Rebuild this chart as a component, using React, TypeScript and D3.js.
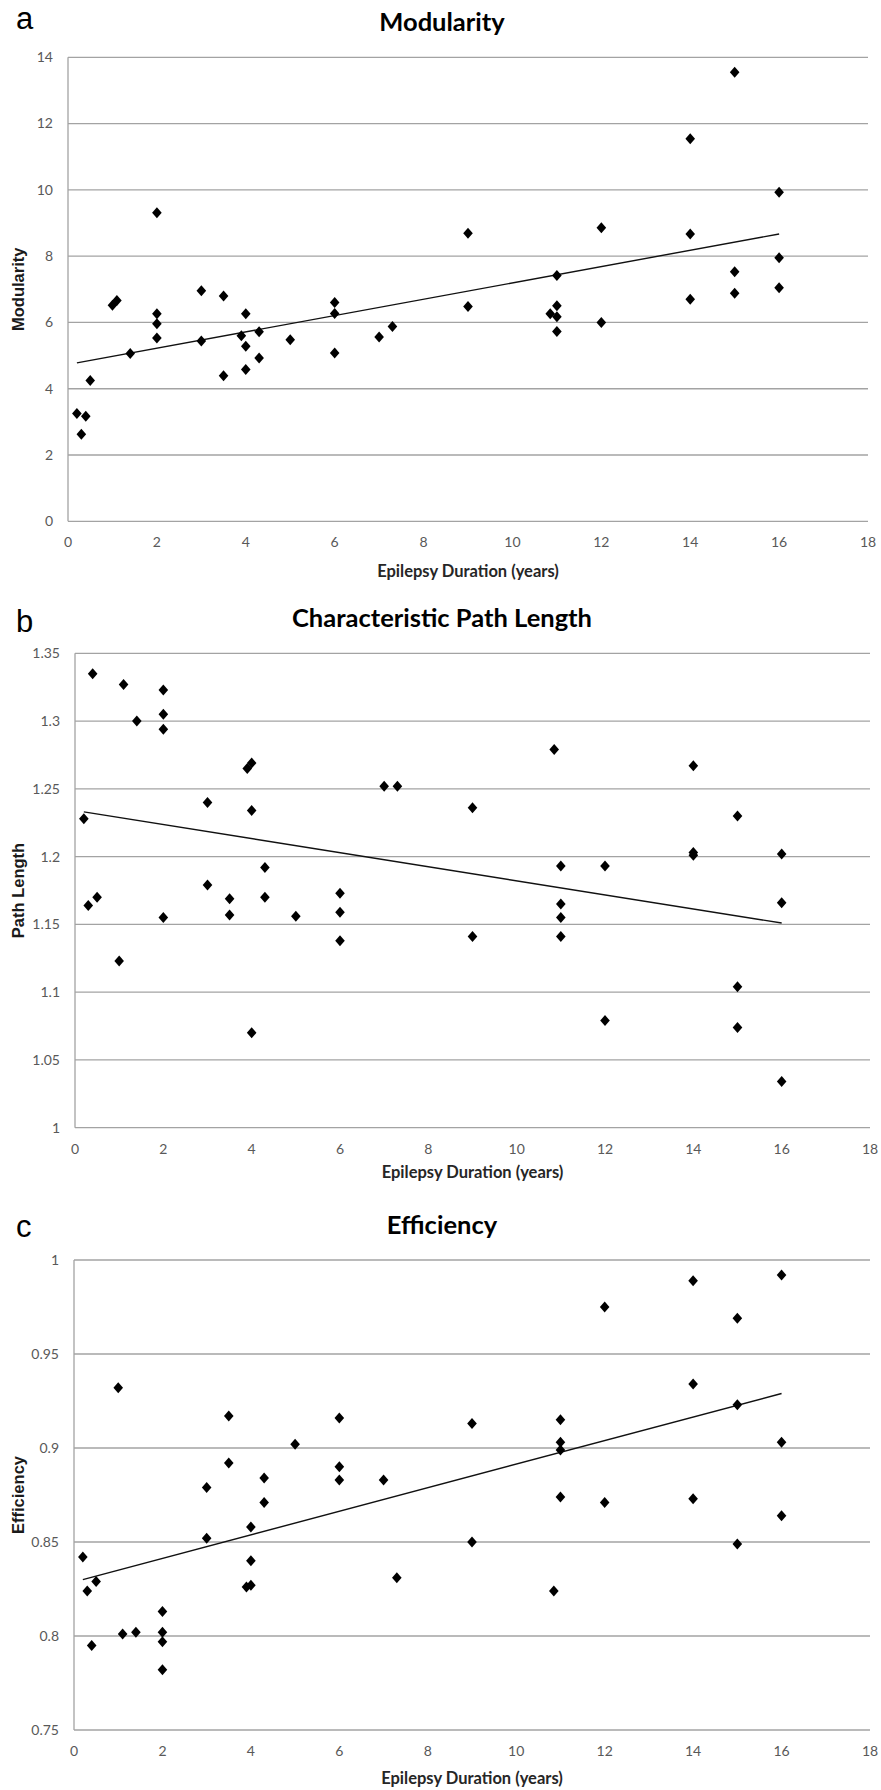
import React, { useRef, useEffect } from "react";
import * as d3 from "d3";

// years since epilepsy onset, one entry per subject
const duration = [
  0.2, 0.3, 0.4, 0.5, 1.0, 1.1, 1.4, 2, 2, 2, 2, 3, 3, 3.5, 3.5, 3.9, 4, 4, 4,
  4.3, 4.3, 5, 6, 6, 6, 7, 7.3, 9, 9, 10.85, 11, 11, 11, 11, 12, 12, 14, 14, 14,
  15, 15, 15, 16, 16, 16,
];

const modularity = [
  3.25, 2.63, 3.17, 4.25, 6.52, 6.66, 5.06, 9.31, 6.26, 5.96, 5.53, 6.96, 5.44,
  6.8, 4.39, 5.6, 6.26, 5.28, 4.58, 5.72, 4.93, 5.48, 6.6, 6.27, 5.08, 5.56,
  5.88, 8.69, 6.48, 6.26, 7.42, 6.5, 6.17, 5.73, 8.86, 6.0, 11.54, 8.67, 6.7,
  13.55, 7.53, 6.88, 9.93, 7.95, 7.05,
];

const pathLength = [
  1.228, 1.164, 1.335, 1.17, 1.123, 1.327, 1.3, 1.323, 1.305, 1.294, 1.155,
  1.24, 1.179, 1.169, 1.157, 1.265, 1.269, 1.234, 1.07, 1.192, 1.17, 1.156,
  1.173, 1.159, 1.138, 1.252, 1.252, 1.236, 1.141, 1.279, 1.193, 1.165, 1.155,
  1.141, 1.193, 1.079, 1.267, 1.203, 1.201, 1.23, 1.104, 1.074, 1.202, 1.166,
  1.034,
];

const efficiency = [
  0.842, 0.824, 0.795, 0.829, 0.932, 0.801, 0.802, 0.813, 0.802, 0.797, 0.782,
  0.879, 0.852, 0.917, 0.892, 0.826, 0.858, 0.84, 0.827, 0.884, 0.871, 0.902,
  0.916, 0.89, 0.883, 0.883, 0.831, 0.913, 0.85, 0.824, 0.915, 0.903, 0.899,
  0.874, 0.975, 0.871, 0.989, 0.934, 0.873, 0.969, 0.923, 0.849, 0.992, 0.903,
  0.864,
];

// linear trend end points as drawn
const trendModularity = [[0.2, 4.78], [16, 8.67]];
const trendPath = [[0.2, 1.233], [16, 1.151]];
const trendEfficiency = [[0.2, 0.83], [16, 0.929]];

const xTicks = [0, 2, 4, 6, 8, 10, 12, 14, 16, 18];
const ticksModularity = [0, 2, 4, 6, 8, 10, 12, 14];
const ticksPath = [1, 1.05, 1.1, 1.15, 1.2, 1.25, 1.3, 1.35];
const ticksEfficiency = [0.75, 0.8, 0.85, 0.9, 0.95, 1];

const panels = [
  {
    letter: "a",
    title: "Modularity",
    ylabel: "Modularity",
    values: modularity,
    trend: trendModularity,
    yTicks: ticksModularity,
    left: 68,
    right: 868,
    top: 57.3,
    bottom: 521.3,
    titleY: 22,
    letterY: 29,
    xtitleY: 571,
  },
  {
    letter: "b",
    title: "Characteristic Path Length",
    ylabel: "Path Length",
    values: pathLength,
    trend: trendPath,
    yTicks: ticksPath,
    left: 75,
    right: 870,
    top: 653.3,
    bottom: 1127.7,
    titleY: 618,
    letterY: 632,
    xtitleY: 1172,
  },
  {
    letter: "c",
    title: "Efficiency",
    ylabel: "Efficiency",
    values: efficiency,
    trend: trendEfficiency,
    yTicks: ticksEfficiency,
    left: 74,
    right: 870,
    top: 1260,
    bottom: 1730,
    titleY: 1225,
    letterY: 1237,
    xtitleY: 1778,
  },
];

const tickFont = "Lato, 'Open Sans', sans-serif";

export default function App() {
  const svgRef = useRef(null);

  useEffect(() => {
    const svg = d3.select(svgRef.current);
    svg.selectAll("*").remove();

    panels.forEach((p) => {
      const yMin = d3.min(p.yTicks);
      const yMax = d3.max(p.yTicks);
      const x = d3.scaleLinear().domain([0, 18]).range([p.left, p.right]);
      const y = d3.scaleLinear().domain([yMin, yMax]).range([p.bottom, p.top]);
      const g = svg.append("g");

      // gridlines
      g.selectAll(".grid")
        .data(p.yTicks)
        .join("line")
        .attr("x1", p.left)
        .attr("x2", p.right)
        .attr("y1", (d) => y(d))
        .attr("y2", (d) => y(d))
        .attr("stroke", "#a3a3a3")
        .attr("stroke-width", 1.3);

      g.append("line")
        .attr("x1", p.left)
        .attr("x2", p.left)
        .attr("y1", p.top)
        .attr("y2", p.bottom)
        .attr("stroke", "#a3a3a3")
        .attr("stroke-width", 1.3);

      // tick labels
      g.selectAll(".ytick")
        .data(p.yTicks)
        .join("text")
        .attr("x", p.left - 15)
        .attr("y", (d) => y(d))
        .attr("dy", "0.35em")
        .attr("text-anchor", "end")
        .attr("font-family", tickFont)
        .attr("font-size", 14)
        .attr("fill", "#595959")
        .text((d) => String(+d.toFixed(2)));

      g.selectAll(".xtick")
        .data(xTicks)
        .join("text")
        .attr("x", (d) => x(d))
        .attr("y", p.bottom + 21)
        .attr("dy", "0.35em")
        .attr("text-anchor", "middle")
        .attr("font-family", tickFont)
        .attr("font-size", 14)
        .attr("fill", "#595959")
        .text((d) => d);

      // trend line
      g.append("path")
        .attr("d", d3.line().x((d) => x(d[0])).y((d) => y(d[1]))(p.trend))
        .attr("stroke", "#111")
        .attr("stroke-width", 1.4)
        .attr("fill", "none");

      // diamonds
      g.selectAll(".pt")
        .data(duration.map((d, i) => [d, p.values[i]]))
        .join("path")
        .attr("transform", (d) => `translate(${x(d[0])},${y(d[1])})`)
        .attr("d", "M0,-5.5L4.8,0L0,5.5L-4.8,0Z")
        .attr("fill", "#000");

      // titles
      g.append("text")
        .attr("x", 442)
        .attr("y", p.titleY)
        .attr("dy", "0.35em")
        .attr("text-anchor", "middle")
        .attr("font-family", tickFont)
        .attr("font-weight", "bold")
        .attr("font-size", 25.5)
        .attr("fill", "#000")
        .text(p.title);

      g.append("text")
        .attr("x", 16)
        .attr("y", p.letterY)
        .attr("font-family", "'Liberation Sans', Arial, sans-serif")
        .attr("font-size", 31)
        .attr("fill", "#000")
        .text(p.letter);

      g.append("text")
        .attr("x", (p.left + p.right) / 2)
        .attr("y", p.xtitleY)
        .attr("dy", "0.35em")
        .attr("text-anchor", "middle")
        .attr("font-family", tickFont)
        .attr("font-weight", "bold")
        .attr("font-size", 16.5)
        .attr("fill", "#262626")
        .text("Epilepsy Duration (years)");

      g.append("text")
        .attr("transform", `translate(18,${(p.top + p.bottom) / 2}) rotate(-90)`)
        .attr("dy", "0.35em")
        .attr("text-anchor", "middle")
        .attr("font-family", "'Liberation Sans', Arial, sans-serif")
        .attr("font-weight", "bold")
        .attr("font-size", 16.5)
        .attr("fill", "#1a1a1a")
        .text(p.ylabel);
    });
  }, []);

  return (
    <svg
      ref={svgRef}
      width={881}
      height={1790}
      style={{ position: "absolute", left: 0, top: 0, background: "#fff" }}
    ></svg>
  );
}
